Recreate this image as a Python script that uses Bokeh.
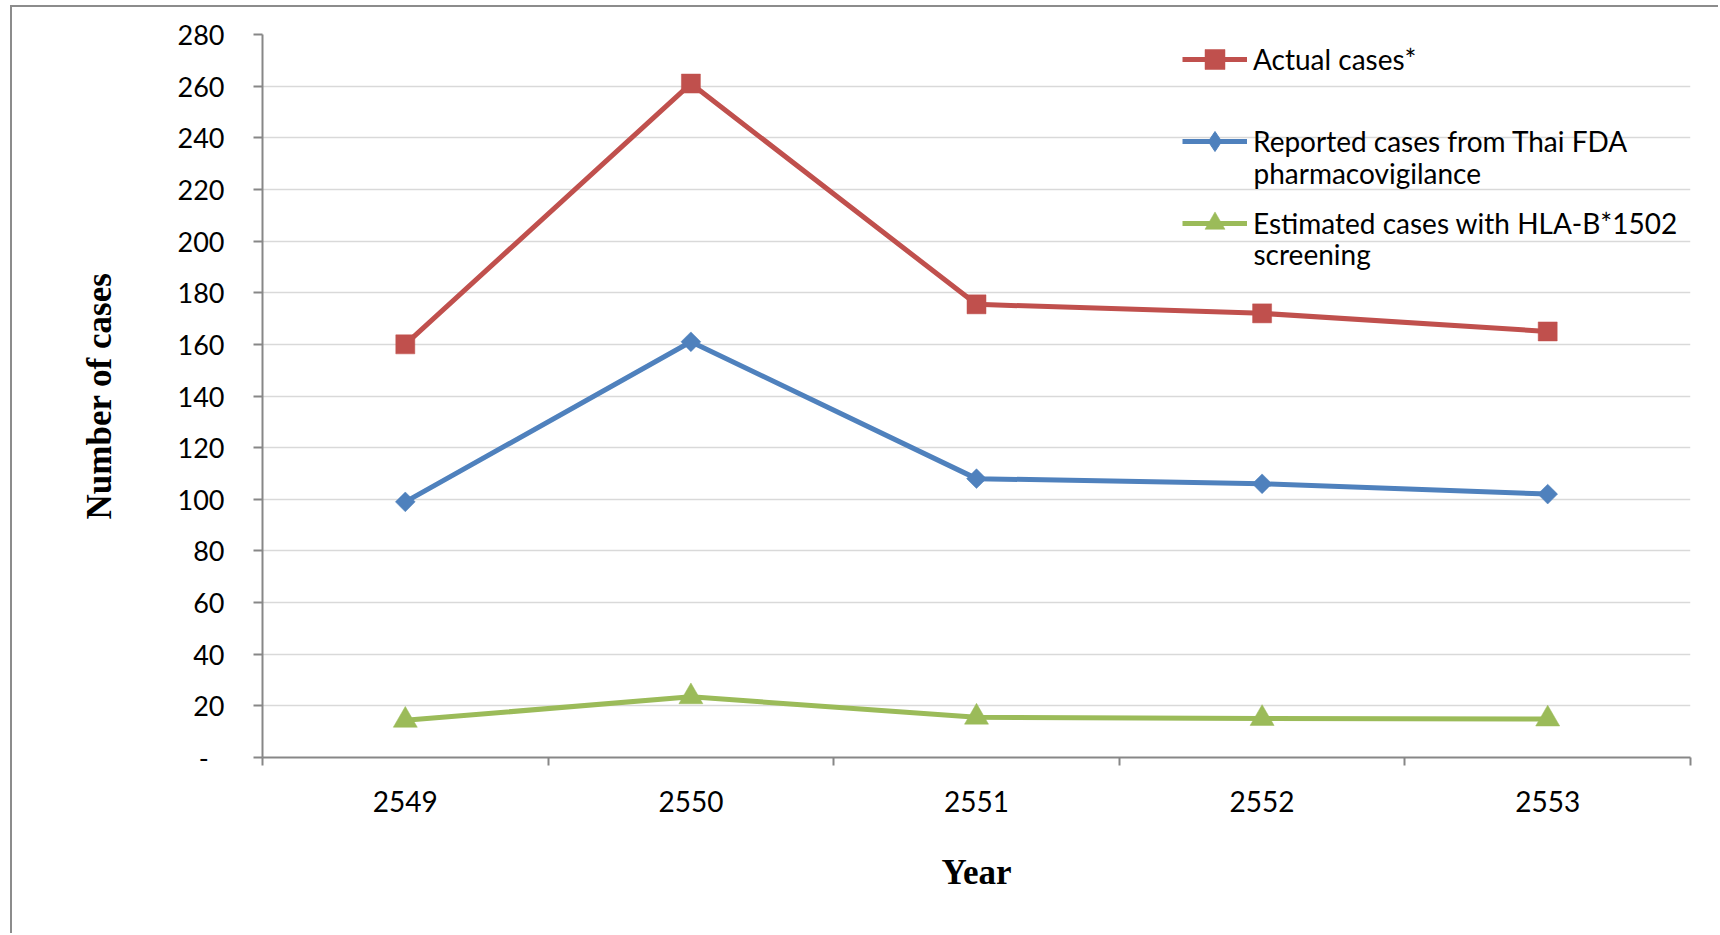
import math
from bokeh.plotting import figure
from bokeh.models import Range1d, FixedTicker, Legend, LegendItem, Label
from bokeh.embed import file_html
from bokeh.resources import INLINE

# ---- data ----
years = ["2549", "2550", "2551", "2552", "2553"]
actual = [160, 261, 175.5, 172, 165]
reported = [99, 161, 108, 106, 102]
estimated = [14.4, 23.5, 15.6, 15.1, 14.9]
y_ticks = list(range(0, 281, 20))
series_names = ["Actual cases*", "Reported cases from Thai FDA",
                "Estimated cases with HLA-B*1502"]
series_second_lines = ["", "pharmacovigilance", "screening"]
y_title = "Number of cases"
x_title = "Year"

# category centres / boundaries on a numeric scale
xc = [i + 0.5 for i in range(len(years))]
bounds = list(range(len(years) + 1))

W, H = 1708, 928
p = figure(width=W, height=H, output_backend="svg", toolbar_location=None,
           x_range=Range1d(0, len(years)), y_range=Range1d(0, 280),
           min_border_left=250, min_border_right=30, min_border_top=27,
           min_border_bottom=178)
p.styles = {"border-left": "2px solid #8c8c8c", "border-top": "2px solid #8c8c8c",
            "margin-left": "10px", "margin-top": "5px"}
p.outline_line_color = None
p.background_fill_color = "white"
p.border_fill_color = "white"

axis_col = "#878787"
tick_font = "Lato"

# x axis
xa = p.xaxis[0]
xa.ticker = FixedTicker(ticks=xc, minor_ticks=bounds)
xa.major_label_overrides = {c: y for c, y in zip(xc, years)}
xa.major_tick_line_color = None
xa.minor_tick_line_color = axis_col
xa.minor_tick_line_width = 2
xa.minor_tick_out = 8
xa.minor_tick_in = 0
xa.axis_line_color = axis_col
xa.axis_line_width = 2
xa.major_label_text_font = tick_font
xa.major_label_text_font_size = "28px"
xa.major_label_text_color = "black"
xa.major_label_standoff = 25
xa.axis_label = x_title
xa.axis_label_text_font = "Liberation Serif"
xa.axis_label_text_font_style = "bold"
xa.axis_label_text_font_size = "35px"
xa.axis_label_text_color = "black"
xa.axis_label_standoff = 38

# y axis
ya = p.yaxis[0]
ya.ticker = FixedTicker(ticks=y_ticks)
ya.major_label_overrides = {0: "-\u2007"}
ya.major_tick_line_color = axis_col
ya.major_tick_line_width = 2
ya.major_tick_out = 9
ya.major_tick_in = 0
ya.minor_tick_line_color = None
ya.axis_line_color = axis_col
ya.axis_line_width = 2
ya.major_label_text_font = tick_font
ya.major_label_text_font_size = "27px"
ya.major_label_text_color = "black"
ya.major_label_standoff = 29
ya.axis_label = y_title
ya.axis_label_text_font = "Liberation Serif"
ya.axis_label_text_font_style = "bold"
ya.axis_label_text_font_size = "35px"
ya.axis_label_text_color = "black"
ya.axis_label_standoff = 56

p.xgrid.grid_line_color = None
p.ygrid.grid_line_color = "#d9d9d9"
p.ygrid.grid_line_width = 1.5

colors = ["#C0504D", "#4F81BD", "#9BBB59"]
markers = ["square", "square", "triangle"]
legend_markers = ["square", "diamond", "triangle"]
msizes = [19, 14, 24]
angles = [0, math.pi / 4, 0]
series = [actual, reported, estimated]

items = []
for name, vals, col, mk, lmk, ms, ang in zip(series_names, series, colors, markers,
                                            legend_markers, msizes, angles):
    ln = p.line(xc, vals, line_color=col, line_width=5, line_join="round")
    sc = p.scatter(xc, vals, marker=mk, size=ms, angle=ang,
                   fill_color=col, line_color=col, line_width=0.5)
    if lmk != mk:
        # legend-only marker (no plotted points)
        proxy = p.scatter([float("nan")], [float("nan")], marker=lmk, size=ms,
                          fill_color=col, line_color=col)
        items.append(LegendItem(label=name, renderers=[ln, proxy]))
    else:
        items.append(LegendItem(label=name, renderers=[ln, sc]))

legend = Legend(items=items, location=(920, 509.5), orientation="vertical",
                glyph_width=65, glyph_height=50, spacing=32, padding=0, margin=0,
                label_standoff=6, label_text_font=tick_font,
                label_text_font_size="28px", label_text_color="black",
                border_line_alpha=0, background_fill_alpha=0)
p.add_layout(legend, "center")

for txt, yy in zip(series_second_lines[1:], [584.5, 503.5]):
    p.add_layout(Label(x=991, y=yy, x_units="screen", y_units="screen", text=txt,
                       text_font=tick_font, text_font_size="28px",
                       text_color="black", text_baseline="middle"))

open("out.html", "w").write(file_html(p, INLINE))
